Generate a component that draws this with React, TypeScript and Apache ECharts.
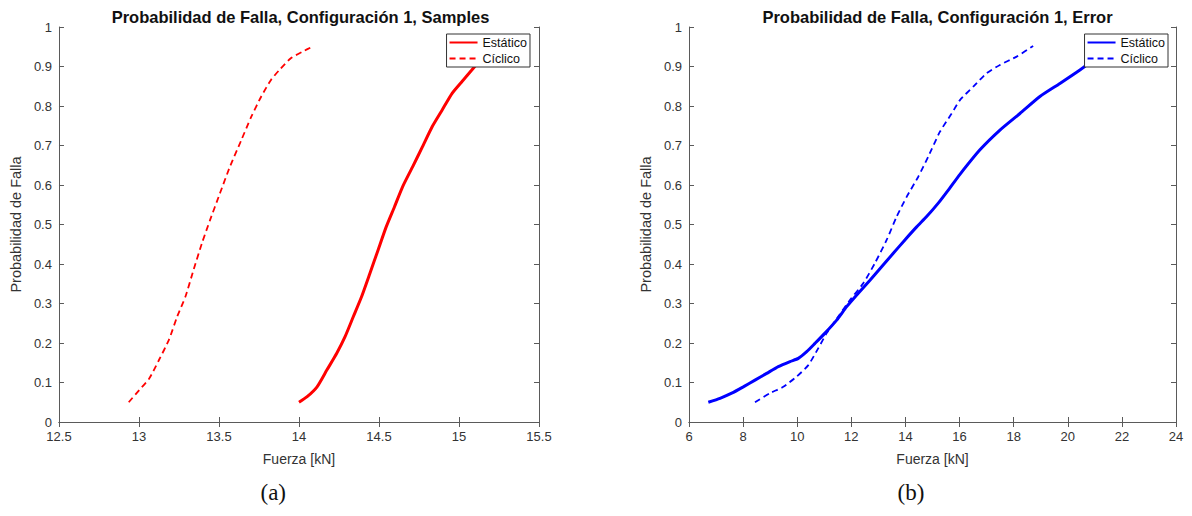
import React, { useEffect, useRef } from "react";
import * as echarts from "echarts";

// ---- data ----
const xTicksA = [12.5, 15.5, 0.5]; // min, max, interval
const xTicksB = [6, 24, 2];

const estaticoAX = [14.0, 14.051, 14.113, 14.175, 14.236, 14.288, 14.34, 14.391, 14.443, 14.494, 14.545, 14.597, 14.648, 14.71, 14.772, 14.833, 14.895, 14.957, 15.019, 15.08, 15.14, 15.21];
const estaticoAY = [0.05, 0.064, 0.089, 0.132, 0.174, 0.216, 0.267, 0.317, 0.376, 0.435, 0.494, 0.545, 0.596, 0.646, 0.697, 0.748, 0.79, 0.832, 0.862, 0.891, 0.92, 0.95];

const ciclicoAX = [12.936, 13.002, 13.064, 13.125, 13.187, 13.239, 13.29, 13.341, 13.393, 13.444, 13.506, 13.568, 13.64, 13.702, 13.764, 13.825, 13.877, 13.949, 14.02, 14.082];
const ciclicoAY = [0.05, 0.081, 0.11, 0.157, 0.208, 0.267, 0.317, 0.385, 0.452, 0.511, 0.579, 0.646, 0.714, 0.773, 0.824, 0.866, 0.891, 0.921, 0.937, 0.95];

const estaticoBX = [6.714, 7.146, 7.578, 8.007, 8.439, 8.871, 9.3, 9.733, 10.04, 10.35, 10.656, 11.026, 11.458, 11.828, 12.257, 12.689, 13.12, 13.55, 13.98, 14.415, 14.784, 15.213, 15.583, 16.015, 16.754, 17.493, 18.232, 18.97, 19.71, 20.449, 20.697, 21.0, 21.4];
const estaticoBY = [0.05, 0.06, 0.073, 0.089, 0.106, 0.123, 0.14, 0.153, 0.161, 0.178, 0.199, 0.225, 0.258, 0.292, 0.326, 0.359, 0.393, 0.427, 0.461, 0.494, 0.52, 0.554, 0.587, 0.627, 0.689, 0.739, 0.781, 0.824, 0.857, 0.891, 0.904, 0.925, 0.95];

const ciclicoBX = [8.439, 8.993, 9.485, 9.98, 10.41, 10.78, 11.09, 11.517, 11.95, 12.44, 12.87, 13.306, 13.676, 14.045, 14.474, 14.844, 15.276, 15.708, 16.015, 16.507, 17.0, 17.493, 18.11, 18.72];
const ciclicoBY = [0.05, 0.073, 0.089, 0.115, 0.144, 0.187, 0.225, 0.267, 0.309, 0.351, 0.402, 0.461, 0.52, 0.57, 0.621, 0.672, 0.735, 0.781, 0.815, 0.849, 0.883, 0.904, 0.925, 0.952];

const seriesNames = ["Estático", "Cíclico"];
const titles = [
  "Probabilidad de Falla, Configuración 1, Samples",
  "Probabilidad de Falla, Configuración 1, Error",
];
const captions = ["(a)", "(b)"];
const xName = "Fuerza [kN]";
const yName = "Probabilidad de Falla";

const zip = (xs: number[], ys: number[]) => xs.map((x, i) => [x, ys[i]]);

const FONT = "'Liberation Sans', Arial, Helvetica, sans-serif";
const AXIS = "#5a5a5a";
const TXT = "#333333";

function makeOption(p: {
  gridLeft: number;
  xt: number[];
  color: string;
  est: number[][];
  cic: number[][];
  title: string;
  caption: string;
  legendRight: number;
}) {
  const gridW = 487;
  const center = p.gridLeft + gridW / 2;
  const common = {
    type: "value",
    axisLine: { show: true, lineStyle: { color: AXIS, width: 1 } },
    axisTick: { show: true, inside: true, length: 5, lineStyle: { color: AXIS } },
    splitLine: { show: false },
  };
  return {
    animation: false,
    textStyle: { fontFamily: FONT },
    title: {
      text: p.title,
      left: center,
      textAlign: "center",
      top: 3,
      textStyle: { fontFamily: FONT, fontSize: 16.5, fontWeight: "bold", color: "#111" },
    },
    legend: {
      orient: "vertical",
      right: p.legendRight,
      top: 34,
      data: seriesNames,
      itemWidth: 28,
      itemHeight: 14,
      itemGap: 3,
      padding: [2, 3, 2, 2],
      borderColor: "#333",
      borderWidth: 1,
      backgroundColor: "#fff",
      selectedMode: false,
      itemStyle: { opacity: 0, borderWidth: 0 },
      textStyle: { fontFamily: FONT, fontSize: 12.5, color: "#111" },
    },
    grid: { left: p.gridLeft, top: 27, width: gridW, height: 395, containLabel: false },
    xAxis: [
      {
        ...common,
        min: p.xt[0],
        max: p.xt[1],
        interval: p.xt[2],
        position: "bottom",
        name: xName,
        nameLocation: "middle",
        nameGap: 30,
        nameTextStyle: { fontFamily: FONT, fontSize: 14, color: TXT },
        axisLabel: { fontFamily: FONT, fontSize: 13, color: TXT, margin: 8 },
      },
      {
        ...common,
        min: p.xt[0],
        max: p.xt[1],
        interval: p.xt[2],
        position: "top",
        axisLabel: { show: false },
      },
    ],
    yAxis: [
      {
        ...common,
        min: 0,
        max: 1,
        interval: 0.1,
        position: "left",
        name: yName,
        nameLocation: "middle",
        nameGap: 31,
        nameTextStyle: { fontFamily: FONT, fontSize: 14.5, color: TXT },
        axisLabel: { fontFamily: FONT, fontSize: 13, color: TXT, margin: 7 },
      },
      {
        ...common,
        min: 0,
        max: 1,
        interval: 0.1,
        position: "right",
        axisLabel: { show: false },
      },
    ],
    series: [
      {
        name: seriesNames[0],
        type: "line",
        data: p.est,
        symbol: "none",
        smooth: 0.2,
        color: p.color,
        lineStyle: { color: p.color, width: 3, type: "solid" },
      },
      {
        name: seriesNames[1],
        type: "line",
        data: p.cic,
        symbol: "none",
        smooth: 0.2,
        color: p.color,
        lineStyle: { color: p.color, width: 1.8, type: [6, 4] },
      },
    ],
    graphic: [
      {
        type: "text",
        left: center - 35,
        top: 481,
        style: {
          text: p.caption,
          fontFamily: "'Liberation Serif', 'DejaVu Serif', serif",
          fontSize: 23,
          fill: "#111",
        },
      },
    ],
  };
}

function Panel(props: { opt: any; left: number }) {
  const ref = useRef<HTMLDivElement>(null);
  useEffect(() => {
    if (!ref.current) return;
    const chart = echarts.init(ref.current, null, { renderer: "svg" });
    chart.setOption(props.opt);
    return () => chart.dispose();
  }, []);
  return (
    <div
      ref={ref}
      style={{ position: "absolute", left: props.left, top: 0, width: 596, height: 516 }}
    />
  );
}

export default function App() {
  const optA = makeOption({
    gridLeft: 52,
    xt: xTicksA,
    color: "#ff0000",
    est: zip(estaticoAX, estaticoAY),
    cic: zip(ciclicoAX, ciclicoAY),
    title: titles[0],
    caption: captions[0],
    legendRight: 596 - 530,
  });
  const optB = makeOption({
    gridLeft: 93,
    xt: xTicksB,
    color: "#0000ff",
    est: zip(estaticoBX, estaticoBY),
    cic: zip(ciclicoBX, ciclicoBY),
    title: titles[1],
    caption: captions[1],
    legendRight: 1192 - 1168,
  });
  return (
    <div style={{ position: "fixed", left: 0, top: 0, width: 1192, height: 516, background: "#fff" }}>
      <Panel opt={optA} left={0} />
      <Panel opt={optB} left={596} />
    </div>
  );
}
